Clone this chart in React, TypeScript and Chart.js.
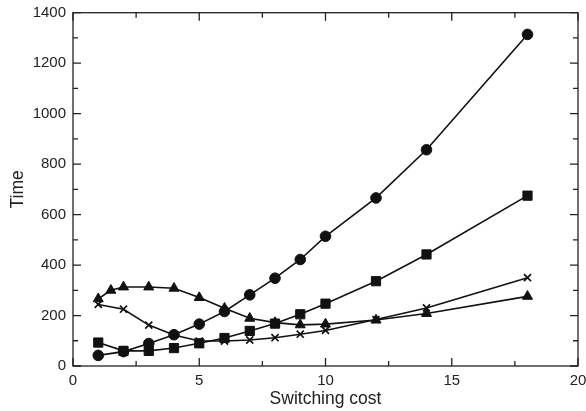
import React, { useEffect, useRef } from "react";
import { Chart, registerables } from "chart.js";

Chart.register(...registerables);

// Switching cost (x) values
const xMain = [1, 2, 3, 4, 5, 6, 7, 8, 9, 10, 12, 14, 18];
const xTriangle = [1, 1.5, 2, 3, 4, 5, 6, 7, 8, 9, 10, 12, 14, 18];

// Time values per series
const circleTimes = [42, 57, 89, 124, 166, 216, 282, 348, 422, 514, 666, 857, 1314];
const squareTimes = [93, 60, 60, 71, 90, 111, 139, 168, 205, 247, 336, 442, 675];
const crossTimes = [244, 225, 162, 123, 99, 99, 103, 112, 126, 141, 184, 230, 350];
const triangleTimes = [266, 300, 313, 313, 308, 271, 229, 189, 172, 163, 166, 182, 208, 276];

const xTickValues = [0, 5, 10, 15, 20];
const yTickValues = [0, 200, 400, 600, 800, 1000, 1200, 1400];

const INK = "#111";
const FONT = "'Liberation Sans', Arial, Helvetica, sans-serif";

const framePlugin = {
  id: "frameTicks",
  afterDraw(chart: any) {
    const { ctx, chartArea, scales } = chart;
    const { left, right, top, bottom } = chartArea;
    const xs = scales.x;
    const ys = scales.y;
    ctx.save();
    ctx.strokeStyle = "#222";
    ctx.lineWidth = 1.3;
    ctx.strokeRect(left, top, right - left, bottom - top);
    const major = 8;
    const minor = 5;
    ctx.beginPath();
    for (let v = 0; v <= 20.001; v += 2.5) {
      const px = xs.getPixelForValue(v);
      const len = Math.abs(v % 5) < 1e-6 ? major : minor;
      ctx.moveTo(px, bottom);
      ctx.lineTo(px, bottom - len);
      ctx.moveTo(px, top);
      ctx.lineTo(px, top + len);
    }
    for (let v = 0; v <= 1400.001; v += 100) {
      const py = ys.getPixelForValue(v);
      const len = Math.abs(v % 200) < 1e-6 ? major : minor;
      ctx.moveTo(left, py);
      ctx.lineTo(left + len, py);
      ctx.moveTo(right, py);
      ctx.lineTo(right - len, py);
    }
    ctx.stroke();
    ctx.restore();
  },
};

export default function App() {
  const ref = useRef<HTMLCanvasElement | null>(null);

  useEffect(() => {
    document.body.style.margin = "0";
    document.body.style.overflow = "hidden";
    if (!ref.current) return;

    const mk = (xs: number[], ys: number[]) => xs.map((x, i) => ({ x, y: ys[i] }));
    const base = {
      borderColor: INK,
      backgroundColor: INK,
      pointBackgroundColor: INK,
      pointBorderColor: INK,
      borderWidth: 1.6,
      pointBorderWidth: 1,
      tension: 0,
      fill: false,
    };

    const chart = new Chart(ref.current, {
      type: "line",
      data: {
        datasets: [
          { ...base, label: "circle", data: mk(xMain, circleTimes), pointStyle: "circle", pointRadius: 5.3 },
          { ...base, label: "square", data: mk(xMain, squareTimes), pointStyle: "rect", pointRadius: 6.5 },
          { ...base, label: "cross", data: mk(xMain, crossTimes), pointStyle: "crossRot", pointRadius: 5, pointBorderWidth: 1.7 },
          { ...base, label: "triangle", data: mk(xTriangle, triangleTimes), pointStyle: "triangle", pointRadius: 5.8 },
        ],
      },
      options: {
        animation: false,
        responsive: false,
        maintainAspectRatio: false,
        layout: { padding: { top: 12.7, right: 8, left: 0, bottom: 0 } },
        plugins: { legend: { display: false }, tooltip: { enabled: false } },
        scales: {
          x: {
            type: "linear",
            min: 0,
            max: 20,
            afterBuildTicks: (s: any) => {
              s.ticks = xTickValues.map((v) => ({ value: v }));
            },
            afterFit: (s: any) => {
              s.height = 45;
              s.paddingLeft = 0;
              s.paddingRight = 0;
            },
            ticks: {
              color: "#222",
              font: { family: FONT, size: 15 },
              padding: 6,
              maxRotation: 0,
              callback: (v: any) => String(v),
            },
            grid: { display: false, drawTicks: false },
            border: { display: false },
            title: {
              display: true,
              text: "Switching cost",
              color: "#222",
              font: { family: FONT, size: 17.5 },
              padding: { top: 0, bottom: 1.5 },
            },
          },
          y: {
            type: "linear",
            min: 0,
            max: 1400,
            afterBuildTicks: (s: any) => {
              s.ticks = yTickValues.map((v) => ({ value: v }));
            },
            afterFit: (s: any) => {
              s.width = 73;
              s.paddingTop = 0;
              s.paddingBottom = 0;
            },
            ticks: {
              color: "#222",
              font: { family: FONT, size: 15 },
              padding: 7,
              callback: (v: any) => String(v),
            },
            grid: { display: false, drawTicks: false },
            border: { display: false },
            title: {
              display: true,
              text: "Time",
              color: "#222",
              font: { family: FONT, size: 17.5 },
              padding: { top: 8, bottom: 0 },
            },
          },
        },
      },
      plugins: [framePlugin],
    } as any);

    return () => chart.destroy();
  }, []);

  return (
    <div style={{ width: 586, height: 411, background: "#fff" }}>
      <canvas ref={ref} width={586} height={411} style={{ display: "block" }} />
    </div>
  );
}
